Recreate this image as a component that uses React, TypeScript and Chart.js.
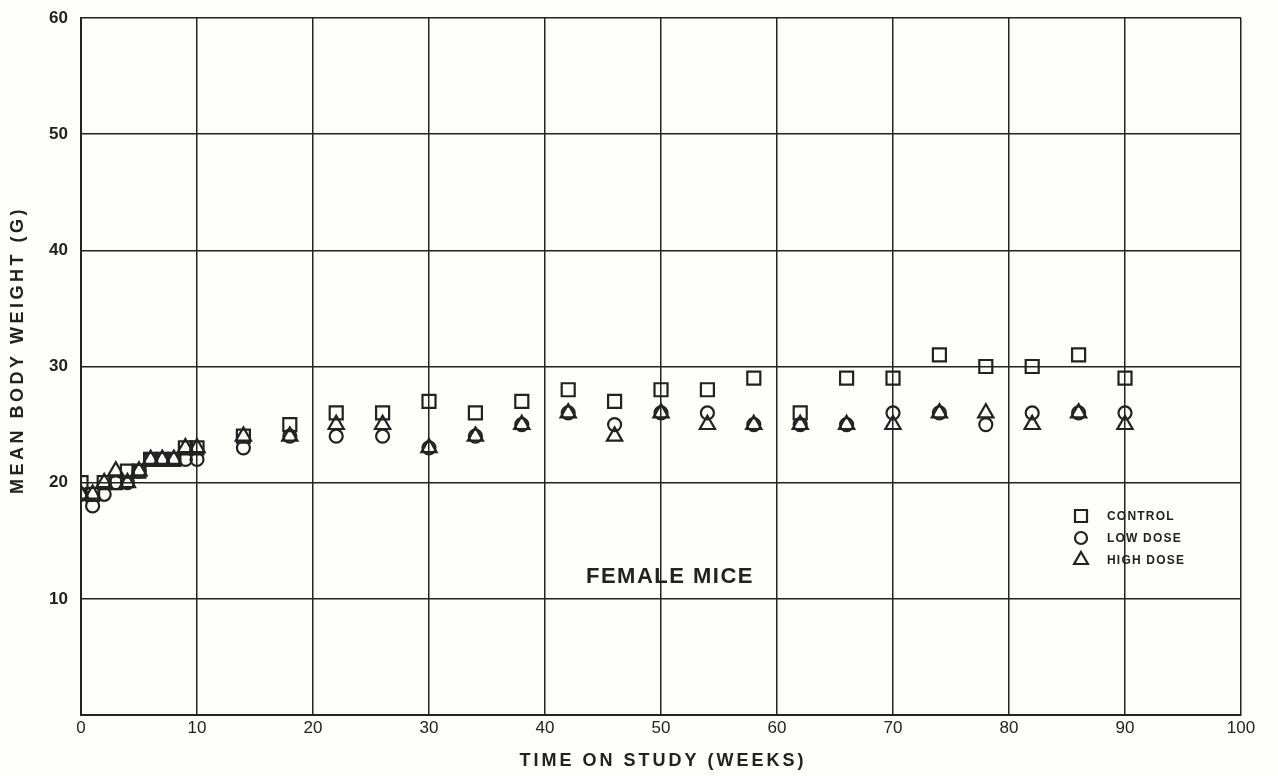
import React, { useEffect, useRef } from 'react';
import { Chart, registerables } from 'chart.js';
Chart.register(...registerables);

const weeks = [0, 1, 2, 3, 4, 5, 6, 7, 8, 9, 10, 14, 18, 22, 26, 30, 34, 38, 42, 46, 50, 54, 58, 62, 66, 70, 74, 78, 82, 86, 90];
const control = [20, 19, 20, 20, 21, 21, 22, 22, 22, 23, 23, 24, 25, 26, 26, 27, 26, 27, 28, 27, 28, 28, 29, 26, 29, 29, 31, 30, 30, 31, 29];
const lowDose = [19, 18, 19, 20, 20, 21, 22, 22, 22, 22, 22, 23, 24, 24, 24, 23, 24, 25, 26, 25, 26, 26, 25, 25, 25, 26, 26, 25, 26, 26, 26];
const highDose = [19, 19, 20, 21, 20, 21, 22, 22, 22, 23, 23, 24, 24, 25, 25, 23, 24, 25, 26, 24, 26, 25, 25, 25, 25, 25, 26, 26, 25, 26, 25];

const seriesNames = ['CONTROL', 'LOW DOSE', 'HIGH DOSE'];
const xTitle = 'TIME ON STUDY (WEEKS)';
const yTitle = 'MEAN BODY WEIGHT (G)';
const panelLabel = 'FEMALE MICE';

const INK = '#222';
const FONT = '"Liberation Sans", Arial, Helvetica, sans-serif';

const toPoints = (ys: number[]) => weeks.map((w, i) => ({ x: w, y: ys[i] }));

const drawMarker = (ctx: CanvasRenderingContext2D, style: string, x: number, y: number) => {
  ctx.save();
  ctx.strokeStyle = INK;
  ctx.lineWidth = 2.2;
  ctx.beginPath();
  if (style === 'rect') {
    ctx.rect(x - 6, y - 6, 12, 12);
  } else if (style === 'circle') {
    ctx.arc(x, y, 6, 0, Math.PI * 2);
  } else {
    const r = 8;
    ctx.moveTo(x, y - r);
    ctx.lineTo(x + r * Math.sin((2 * Math.PI) / 3), y - r * Math.cos((2 * Math.PI) / 3));
    ctx.lineTo(x + r * Math.sin((4 * Math.PI) / 3), y - r * Math.cos((4 * Math.PI) / 3));
    ctx.closePath();
  }
  ctx.stroke();
  ctx.restore();
};

const annotations = {
  id: 'annotations',
  afterDraw(chart: any) {
    const ctx: CanvasRenderingContext2D = chart.ctx;
    const area = chart.chartArea;
    ctx.save();
    ctx.fillStyle = INK;
    // x axis title
    ctx.font = `bold 18px ${FONT}`;
    (ctx as any).letterSpacing = '3px';
    ctx.textAlign = 'center';
    ctx.textBaseline = 'middle';
    ctx.fillText(xTitle, (area.left + area.right) / 2 + 2, 761);
    // y axis title
    ctx.save();
    ctx.translate(18, 350);
    ctx.rotate(-Math.PI / 2);
    ctx.font = `bold 18px ${FONT}`;
    (ctx as any).letterSpacing = '3.5px';
    ctx.fillText(yTitle, 0, 0);
    ctx.restore();
    // panel label
    (ctx as any).letterSpacing = '1.5px';
    ctx.font = `bold 22px ${FONT}`;
    ctx.fillText(panelLabel, 670, 577);
    // legend
    (ctx as any).letterSpacing = '1.2px';
    ctx.font = `bold 12px ${FONT}`;
    ctx.textAlign = 'left';
    const styles = ['rect', 'circle', 'triangle'];
    const rows = [516, 538, 560];
    styles.forEach((s, i) => {
      drawMarker(ctx, s, 1081, rows[i]);
      ctx.fillText(seriesNames[i], 1107, rows[i] + 1);
    });
    ctx.restore();
  },
};

export default function App() {
  const canvasRef = useRef<HTMLCanvasElement | null>(null);

  useEffect(() => {
    document.body.style.margin = '0';
    document.body.style.background = '#fdfdfa';
    const canvas = canvasRef.current;
    if (!canvas) return;
    const common = {
      showLine: false,
      borderColor: INK,
      backgroundColor: 'rgba(0,0,0,0)',
      pointBorderColor: INK,
      pointBackgroundColor: 'rgba(0,0,0,0)',
      pointBorderWidth: 2.2,
    };
    const chart = new Chart(canvas, {
      type: 'scatter',
      data: {
        datasets: [
          { ...common, label: seriesNames[0], data: toPoints(control), pointStyle: 'rect', pointRadius: 9.2 },
          { ...common, label: seriesNames[1], data: toPoints(lowDose), pointStyle: 'circle', pointRadius: 6.5 },
          { ...common, label: seriesNames[2], data: toPoints(highDose), pointStyle: 'triangle', pointRadius: 8.8 },
        ],
      },
      options: {
        animation: false,
        responsive: true,
        maintainAspectRatio: false,
        layout: { padding: { top: 18, right: 37, left: 0, bottom: 0 } },
        plugins: {
          legend: { display: false },
          tooltip: { enabled: false },
        },
        scales: {
          x: {
            type: 'linear',
            min: 0,
            max: 100,
            afterFit: (s: any) => {
              s.height = 61;
            },
            ticks: {
              stepSize: 10,
              color: INK,
              padding: 3,
              font: { family: FONT, size: 17 },
              maxRotation: 0,
            },
            grid: { color: INK, lineWidth: 1.5, drawTicks: false },
            border: { color: INK, width: 2 },
          },
          y: {
            type: 'linear',
            min: 0,
            max: 60,
            afterFit: (s: any) => {
              s.width = 81;
              s.paddingTop = 0;
              s.paddingBottom = 0;
            },
            ticks: {
              stepSize: 10,
              color: INK,
              padding: 13,
              font: { family: FONT, size: 17, weight: 'bold' },
              callback: (v: any) => (v === 0 ? '' : String(v)),
            },
            grid: { color: INK, lineWidth: 1.5, drawTicks: false },
            border: { color: INK, width: 2 },
          },
        },
      },
      plugins: [annotations],
    } as any);
    return () => chart.destroy();
  }, []);

  return (
    <div style={{ position: 'fixed', left: 0, top: 0, width: 1278, height: 776 }}>
      <canvas ref={canvasRef} />
    </div>
  );
}
